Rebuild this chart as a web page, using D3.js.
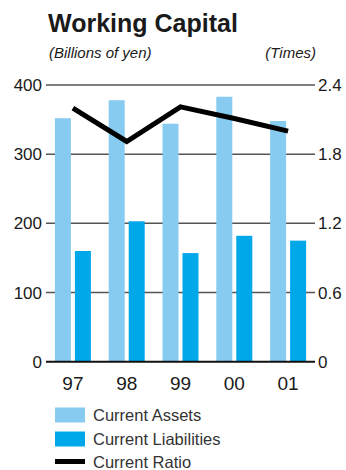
<!DOCTYPE html>
<html>
<head>
<meta charset="utf-8">
<script src="https://cdn.jsdelivr.net/npm/d3@7"></script>
<style>
  body { margin: 0; background: #fff; }
  text { font-family: "Liberation Sans", Arial, sans-serif; fill: #1a1a1a; }
</style>
</head>
<body>
<svg id="chart"></svg>
<script>
var years = ["97", "98", "99", "00", "01"];
var currentAssets = [352, 378, 344, 383, 348];
var currentLiabilities = [160, 203, 157, 182, 175];
var currentRatio = [2.20, 1.91, 2.21, 2.11, 2.00];
var leftTicks = [0, 100, 200, 300, 400];
var rightTicks = [0, 0.6, 1.2, 1.8, 2.4];

var svg = d3.select("#chart")
    .attr("width", 346)
    .attr("height", 470);

var plotLeft = 46, plotRight = 315, plotTop = 85, plotBottom = 361.7;

var xScale = d3.scaleBand().domain(years).range([plotLeft, plotRight]).paddingInner(0).paddingOuter(0);
var yScale = d3.scaleLinear().domain([0, 400]).range([plotBottom, plotTop]);
var yRatio = d3.scaleLinear().domain([0, 2.4]).range([plotBottom, plotTop]);

var barW = 16, gap = 4;
var groupOffset = (xScale.bandwidth() - (barW * 2 + gap)) / 2;

// title
svg.append("text")
    .attr("x", 48).attr("y", 32)
    .style("font-size", "25px").style("font-weight", "bold")
    .text("Working Capital");
svg.append("text")
    .attr("x", 49).attr("y", 58)
    .style("font-size", "15px").style("font-style", "italic")
    .text("(Billions of yen)");
svg.append("text")
    .attr("x", 316).attr("y", 58)
    .attr("text-anchor", "end")
    .style("font-size", "15px").style("font-style", "italic")
    .text("(Times)");

// gridlines
svg.append("g").selectAll("line")
    .data(leftTicks.filter(d => d > 0))
    .enter().append("line")
    .attr("x1", plotLeft).attr("x2", plotRight)
    .attr("y1", d => yScale(d)).attr("y2", d => yScale(d))
    .attr("stroke", "#555").attr("stroke-width", 1.5);

// left labels
svg.append("g").selectAll("text")
    .data(leftTicks)
    .enter().append("text")
    .attr("x", 42)
    .attr("y", d => yScale(d) + 6)
    .attr("text-anchor", "end")
    .style("font-size", "17px")
    .text(d => d);

// right labels
svg.append("g").selectAll("text")
    .data(rightTicks)
    .enter().append("text")
    .attr("x", 318)
    .attr("y", d => yRatio(d) + 6)
    .style("font-size", "17px")
    .text(d => d === 0 ? "0" : d3.format(".1f")(d));

// bars
svg.append("g").selectAll("rect")
    .data(currentAssets)
    .enter().append("rect")
    .attr("x", (d, i) => xScale(years[i]) + groupOffset)
    .attr("y", d => yScale(d))
    .attr("width", barW)
    .attr("height", d => yScale(0) - yScale(d))
    .attr("fill", "#88cbf1");

svg.append("g").selectAll("rect")
    .data(currentLiabilities)
    .enter().append("rect")
    .attr("x", (d, i) => xScale(years[i]) + groupOffset + barW + gap)
    .attr("y", d => yScale(d))
    .attr("width", barW)
    .attr("height", d => yScale(0) - yScale(d))
    .attr("fill", "#00a7e9");

// zero line
svg.append("line")
    .attr("x1", plotLeft).attr("x2", plotRight)
    .attr("y1", yScale(0)).attr("y2", yScale(0))
    .attr("stroke", "#111").attr("stroke-width", 2);

// ratio line
var line = d3.line()
    .x((d, i) => xScale(years[i]) + xScale.bandwidth() / 2)
    .y(d => yRatio(d));
svg.append("path")
    .datum(currentRatio)
    .attr("d", line)
    .attr("fill", "none")
    .attr("stroke", "#000")
    .attr("stroke-width", 5);

// x labels
svg.append("g").selectAll("text")
    .data(years)
    .enter().append("text")
    .attr("x", d => xScale(d) + xScale.bandwidth() / 2)
    .attr("y", 390)
    .attr("text-anchor", "middle")
    .style("font-size", "19px")
    .text(d => d);

// legend
var legendItems = [
    { label: "Current Assets", color: "#88cbf1", h: 15, cy: 415 },
    { label: "Current Liabilities", color: "#00a7e9", h: 15, cy: 439 },
    { label: "Current Ratio", color: "#000", h: 5, cy: 461.5 }
];
var legend = svg.append("g");
legendItems.forEach(function(item) {
    legend.append("rect")
        .attr("x", 55).attr("y", item.cy - item.h / 2)
        .attr("width", 30).attr("height", item.h)
        .attr("fill", item.color);
    legend.append("text")
        .attr("x", 93).attr("y", item.cy + 6)
        .style("font-size", "16.5px")
        .style("fill", "#333")
        .text(item.label);
});
</script>
</body>
</html>
